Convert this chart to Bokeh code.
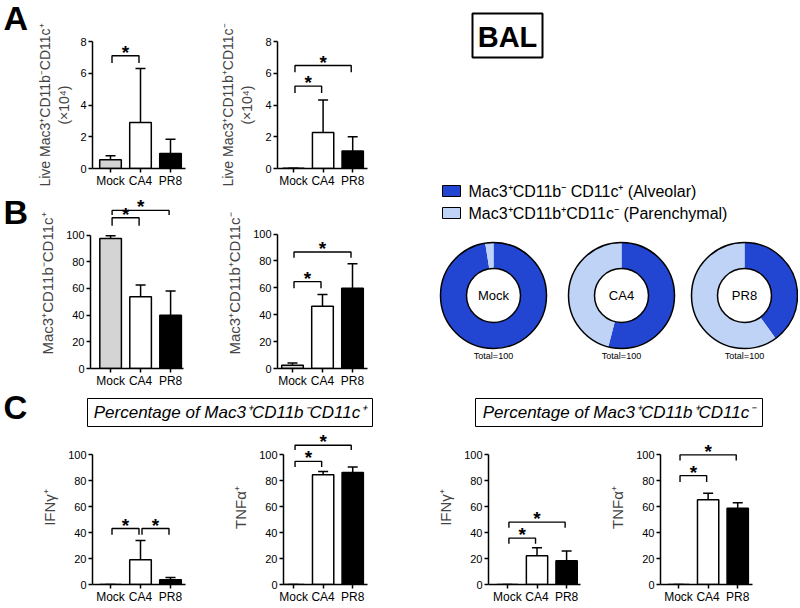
import math
from bokeh.plotting import figure
from bokeh.models import Range1d, FixedTicker
from bokeh.layouts import row, column
from bokeh.embed import file_html
from bokeh.resources import INLINE
from bokeh.core.properties import value

FONT = "Liberation Sans"

# ---------------- data ----------------
groups = ["Mock", "CA4", "PR8"]
group_fill = ["#d4d4d4", "#ffffff", "#000000"]

a1_mean = [0.55, 2.9, 0.95]
a1_sd = [0.25, 3.4, 0.9]
a2_mean = [0.02, 2.27, 1.1]
a2_sd = [0.0, 2.05, 0.9]
b1_mean = [97.5, 53.8, 40.0]
b1_sd = [2.0, 8.7, 18.0]
b2_mean = [2.5, 46.4, 59.7]
b2_sd = [1.5, 8.6, 18.3]
c1_mean = [0.0, 19.0, 3.7]
c1_sd = [0.0, 15.0, 1.7]
c2_mean = [0.0, 84.7, 86.4]
c2_sd = [0.0, 2.5, 4.2]
c3_mean = [0.0, 22.2, 18.3]
c3_sd = [0.0, 6.2, 7.6]
c4_mean = [0.0, 65.4, 58.8]
c4_sd = [0.0, 5.0, 4.2]

# significance brackets: (group a, group b, bracket height, leg length)
a1_sig = [(0, 1, 7.1, 0.45)]
a2_sig = [(0, 1, 5.19, 0.43), (0, 2, 6.49, 0.42)]
b1_sig = [(0, 1, 113.0, 6.0), (0, 2, 118.5, 3.5)]
b2_sig = [(0, 1, 64.6, 4.9), (0, 2, 86.7, 4.4)]
c1_sig = [(0, 1, 43.2, 4.9), (1, 2, 43.2, 4.9)]
c2_sig = [(0, 1, 95.0, 4.4), (0, 2, 107.4, 3.7)]
c3_sig = [(0, 1, 35.8, 4.4), (0, 2, 48.1, 4.4)]
c4_sig = [(0, 1, 84.0, 5.0), (0, 2, 100.0, 4.4)]

ticks_count = [0, 2, 4, 6, 8]
ticks_pct = [0, 20, 40, 60, 80, 100]

pie_series = ["Mac3\u207aCD11b\u207b CD11c\u207a (Alveolar)",
              "Mac3\u207aCD11b\u207aCD11c\u207b (Parenchymal)"]
pie_colors = ["#2346d2", "#bed3f5"]
pie_alveolar = [97.5, 54.0, 40.0]
pie_parenchymal = [2.5, 46.0, 60.0]
pie_total = ["Total=100", "Total=100", "Total=100"]

panel_letters = ["A", "B"]
header_texts = ["Percentage of Mac3\u207aCD11b\u207bCD11c\u207a",
                "Percentage of Mac3\u207aCD11b\u207aCD11c\u207b"]


def base_fig(W, H, xr, yr, L=0, R=0, T=0, B=0, axes=True):
    kw = dict(width=W, height=H, x_range=xr, y_range=yr, output_backend="svg",
              toolbar_location=None, min_border_left=L, min_border_right=R,
              min_border_top=T, min_border_bottom=B)
    if not axes:
        kw.update(x_axis_location=None, y_axis_location=None)
    p = figure(**kw)
    p.outline_line_color = None
    p.grid.visible = False
    p.background_fill_color = "white"
    p.border_fill_color = "white"
    return p


def bar_chart(mean, sd, sig, ylabel, yticks, W, H, L, R, T, B, x0, x1, top_px,
              standoff=7, label_size="15px"):
    frame_h = H - T - B
    y_end = yticks[-1] * frame_h / (H - B - top_px)
    p = base_fig(W, H, Range1d(x0, x1), Range1d(0, y_end), L, R, T, B)
    ppy = frame_h / y_end
    xs = list(range(len(groups)))
    p.vbar(x=xs, top=mean, width=0.72, fill_color=group_fill, line_color="black", line_width=1.5)
    tops = [m + s for m, s in zip(mean, sd)]
    p.segment(x0=xs, y0=mean, x1=xs, y1=tops, line_color="black", line_width=1.5)
    p.scatter(x=xs, y=tops, marker="dash", size=10, line_color="black", line_width=1.5)
    bx, by, sx, sy = [], [], [], []
    for a, b, h, d in sig:
        xa, xb = a + 0.05, b - 0.05
        bx.append([xa, xa, xb, xb])
        by.append([h - d, h, h, h - d])
        sx.append((xa + xb) / 2)
        sy.append(h + 3.5 / ppy)
    p.multi_line(xs=bx, ys=by, line_color="black", line_width=1.4)
    p.text(x=sx, y=sy, text=["*"] * len(sx), text_font=value(FONT), text_font_size="19px",
           text_font_style="bold", text_align="center", text_baseline="middle")
    xa_ = p.xaxis[0]
    xa_.ticker = FixedTicker(ticks=xs)
    xa_.major_label_overrides = {i: g for i, g in enumerate(groups)}
    ya = p.yaxis[0]
    ya.ticker = FixedTicker(ticks=yticks)
    ya.bounds = (0, yticks[-1])
    ya.axis_label = ylabel
    ya.axis_label_text_font = FONT
    ya.axis_label_text_font_size = label_size
    ya.axis_label_text_font_style = "normal"
    ya.axis_label_standoff = standoff
    for ax in (xa_, ya):
        ax.axis_line_width = 1.5
        ax.major_tick_line_width = 1.5
        ax.major_tick_in = 0
        ax.major_tick_out = 4
        ax.minor_tick_line_color = None
        ax.major_label_text_font = FONT
        ax.major_label_text_color = "black"
        ax.axis_line_color = "black"
        ax.major_tick_line_color = "black"
    xa_.major_label_text_font_size = "12px"
    xa_.major_label_standoff = 1
    ya.major_label_text_font_size = "11px"
    ya.major_label_standoff = 2
    return p


lab_a1 = "Live Mac3\u207aCD11b\u207bCD11c\u207a\n(\u00d710\u2074)"
lab_a2 = "Live Mac3\u207aCD11b\u207aCD11c\u207b\n(\u00d710\u2074)"
lab_b1 = "Mac3\u207aCD11b\u207bCD11c\u207a"
lab_b2 = "Mac3\u207aCD11b\u207aCD11c\u207b"
lab_ifn = "IFN\u03b3\u207a"
lab_tnf = "TNF\u03b1\u207a"

A1 = bar_chart(a1_mean, a1_sd, a1_sig, lab_a1, ticks_count, 170, 190, 62, 15, 38, 19, -0.6, 2.5, 38, 5, "14px")
A2 = bar_chart(a2_mean, a2_sd, a2_sig, lab_a2, ticks_count, 220, 190, 77, 53, 41, 19, -0.54, 2.5, 41, 7, "14px")
B1 = bar_chart(b1_mean, b1_sd, b1_sig, lab_b1, ticks_pct, 170, 200, 60, 17, 8, 20, -0.67, 2.43, 45)
B2 = bar_chart(b2_mean, b2_sd, b2_sig, lab_b2, ticks_pct, 220, 200, 77, 53, 8, 20, -0.5, 2.5, 44)
C1 = bar_chart(c1_mean, c1_sd, c1_sig, lab_ifn, ticks_pct, 200, 178, 92, 15, 2, 18, -0.6, 2.5, 27)
C2 = bar_chart(c2_mean, c2_sd, c2_sig, lab_tnf, ticks_pct, 230, 178, 83, 63, 2, 18, -0.34, 2.5, 27)
C3 = bar_chart(c3_mean, c3_sd, c3_sig, lab_ifn, ticks_pct, 170, 178, 58, 20, 2, 18, -0.64, 2.47, 27)
C4 = bar_chart(c4_mean, c4_sd, c4_sig, lab_tnf, ticks_pct, 198, 178, 60, 46, 2, 18, -0.61, 2.5, 27)

# ---------------- panel letters A / B ----------------
LW, LH = 30, 390
lp = base_fig(LW, LH, Range1d(0, LW), Range1d(0, LH), axes=False)
lp.text(x=[3, 3], y=[LH - 17, LH - 211], text=panel_letters, text_font=value(FONT),
        text_font_size="34px", text_font_style="bold", text_align="left", text_baseline="alphabetic")

# ---------------- right panel: BAL, legend, donuts ----------------
RW, RH = 378, 390
rp = base_fig(RW, RH, Range1d(0, RW), Range1d(0, RH), axes=False)
rp.quad(left=[52], right=[122], top=[377], bottom=[333], fill_color=None, line_color="black", line_width=2)
rp.text(x=[87], y=[354], text=["BAL"], text_font=value(FONT), text_font_size="29px",
        text_font_style="bold", text_align="center", text_baseline="middle")
leg_y = [199.5, 177.5]
rp.quad(left=[22, 22], right=[40, 40], top=[y + 5.5 for y in leg_y], bottom=[y - 5.5 for y in leg_y],
        fill_color=pie_colors, line_color="black", line_width=1)
rp.text(x=[48, 48], y=leg_y, text=pie_series, text_font=value(FONT), text_font_size="16px",
        text_align="left", text_baseline="middle")
cx = [73, 201, 324]
cy = [95] * len(groups)
r_out, r_in = 53, 27
fd = [a / (a + b) for a, b in zip(pie_alveolar, pie_parenchymal)]
fl = [b / (a + b) for a, b in zip(pie_alveolar, pie_parenchymal)]
rp.annular_wedge(x=cx, y=cy, inner_radius=r_in, outer_radius=r_out,
                 start_angle=[math.pi / 2 - 2 * math.pi * f for f in fd],
                 end_angle=[math.pi / 2] * 3, fill_color=pie_colors[0], line_color=None)
rp.annular_wedge(x=cx, y=cy, inner_radius=r_in, outer_radius=r_out,
                 start_angle=[math.pi / 2] * 3,
                 end_angle=[math.pi / 2 + 2 * math.pi * f for f in fl], fill_color=pie_colors[1], line_color=None)
rp.circle(x=cx, y=cy, radius=r_out, fill_color=None, line_color="black", line_width=1.5)
rp.circle(x=cx, y=cy, radius=r_in, fill_color=None, line_color="black", line_width=1.5)
rp.text(x=cx, y=cy, text=groups, text_font=value(FONT), text_font_size="13px",
        text_align="center", text_baseline="middle")
rp.text(x=cx, y=[35] * 3, text=pie_total, text_font=value(FONT), text_font_size="9px",
        text_align="center", text_baseline="middle")

# ---------------- header for C ----------------
HW, HH = 798, 38
hp = base_fig(HW, HH, Range1d(0, HW), Range1d(0, HH), axes=False)
hp.text(x=[3], y=[21], text=["C"], text_font=value(FONT), text_font_size="33px",
        text_font_style="bold", text_align="left", text_baseline="alphabetic")
box_l = [87, 475]
box_r = [372, 762]
hp.quad(left=box_l, right=box_r, top=[30, 30], bottom=[2, 2], fill_color=None, line_color="black", line_width=1)
hp.text(x=[(l + r) / 2 for l, r in zip(box_l, box_r)], y=[16, 16], text=header_texts,
        text_font=value(FONT), text_font_size="17px", text_font_style="italic",
        text_align="center", text_baseline="middle")

layout = column(
    row(lp, column(row(A1, A2), row(B1, B2)), rp),
    hp,
    row(C1, C2, C3, C4),
)

open("out.html", "w").write(file_html(layout, INLINE))
